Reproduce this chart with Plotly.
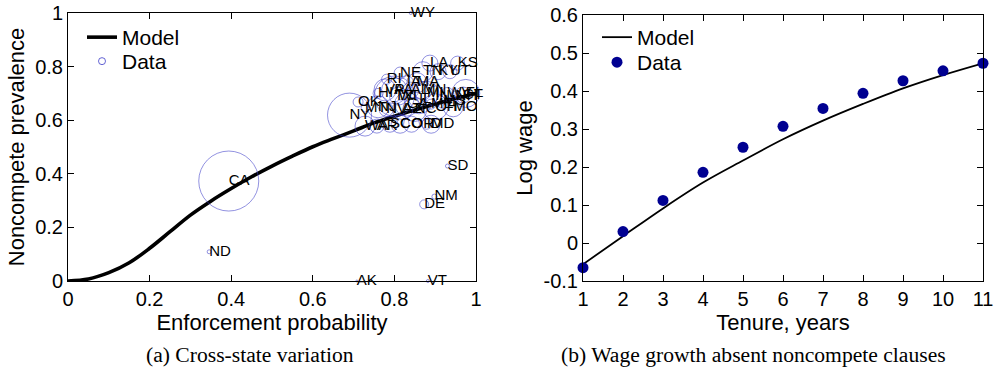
import plotly.graph_objects as go

# ---------------- data: panel (a) ----------------
enf_grid = [0.0, 0.05, 0.10, 0.15, 0.20, 0.25, 0.30, 0.35, 0.40, 0.45, 0.50,
            0.55, 0.60, 0.65, 0.70, 0.75, 0.80, 0.85, 0.90, 0.95, 1.00]
model_prev = [0.0, 0.0075, 0.031, 0.068, 0.122, 0.184, 0.246, 0.298, 0.345, 0.389, 0.429,
              0.466, 0.501, 0.531, 0.560, 0.590, 0.615, 0.638, 0.660, 0.681, 0.700]

states = ["CA", "NY", "TX", "FL", "IL", "PA", "OH", "MI", "GA", "NC",
          "NJ", "VA", "WA", "MA", "IN", "AZ", "TN", "MO", "MD", "WI",
          "MN", "CO", "AL", "SC", "LA", "KY", "OR", "OK", "CT", "IA",
          "MS", "AR", "KS", "UT", "NV", "NM", "WV", "NE", "ID", "HI",
          "ME", "NH", "RI", "MT", "DE", "SD", "AK", "ND", "VT", "WY"]
state_enf = [0.394, 0.690, 0.800, 0.975, 0.860, 0.800, 0.900, 0.880, 0.830, 0.850,
             0.760, 0.777, 0.728, 0.855, 0.900, 0.820, 0.870, 0.944, 0.890, 0.810,
             0.870, 0.814, 0.840, 0.789, 0.887, 0.907, 0.842, 0.711, 0.968, 0.830,
             0.920, 0.757, 0.955, 0.936, 0.780, 0.898, 0.930, 0.814, 0.879, 0.760,
             0.890, 0.950, 0.781, 0.728, 0.873, 0.930, 0.708, 0.346, 0.882, 0.840]
state_prev = [0.373, 0.619, 0.690, 0.700, 0.680, 0.710, 0.650, 0.700, 0.660, 0.640,
              0.650, 0.713, 0.578, 0.740, 0.690, 0.640, 0.781, 0.650, 0.585, 0.690,
              0.710, 0.585, 0.712, 0.585, 0.813, 0.781, 0.585, 0.668, 0.694, 0.740,
              0.670, 0.578, 0.813, 0.781, 0.640, 0.315, 0.700, 0.776, 0.585, 0.700,
              0.660, 0.690, 0.753, 0.645, 0.286, 0.429, 0.000, 0.109, 0.000, 1.000]
state_weight = [60, 44, 40, 28, 30, 26, 26, 24, 24, 24,
                22, 22, 20, 20, 20, 20, 20, 20, 18, 18,
                18, 18, 16, 16, 16, 16, 16, 10, 16, 14,
                14, 14, 14, 14, 14, 5, 12, 12, 10, 10,
                10, 10, 10, 8, 9, 4, 2, 4, 3, 3]

# ---------------- data: panel (b) ----------------
tenure = [1, 2, 3, 4, 5, 6, 7, 8, 9, 10, 11]
wage_data = [-0.065, 0.030, 0.112, 0.186, 0.252, 0.307, 0.354, 0.394, 0.427, 0.453, 0.473]
wage_model = [-0.056, 0.018, 0.091, 0.159, 0.217, 0.273, 0.322, 0.366, 0.407, 0.442, 0.473]

W, H = 996, 377
SANS = "Liberation Sans, Arial, Helvetica, sans-serif"
SERIF = "Liberation Serif, Times New Roman, serif"
CIRC = "rgb(60,60,200)"
NAVY = "rgb(0,0,145)"

def px(v):
    return v / W

def py(v):
    return 1 - v / H

fig = go.Figure()

# panel (a)
fig.add_trace(go.Scatter(x=enf_grid, y=model_prev, mode="lines", line=dict(color="black", width=3.6, shape="spline"),
                         xaxis="x", yaxis="y", showlegend=False, hoverinfo="skip"))
fig.add_trace(go.Scatter(x=state_enf, y=state_prev, mode="markers",
                         marker=dict(size=state_weight, sizemode="diameter", symbol="circle-open",
                                     color=CIRC, line=dict(width=0.8, color=CIRC)),
                         xaxis="x", yaxis="y", showlegend=False, cliponaxis=False))
fig.add_trace(go.Scatter(x=state_enf, y=state_prev, mode="text", text=states, textposition="middle right",
                         textfont=dict(family=SANS, size=15, color="black"),
                         xaxis="x", yaxis="y", showlegend=False, cliponaxis=False))
# legend entries (a)
fig.add_trace(go.Scatter(x=[None], y=[None], mode="lines", name="Model", line=dict(color="black", width=3.6),
                         xaxis="x", yaxis="y", legend="legend"))
fig.add_trace(go.Scatter(x=[None], y=[None], mode="markers", name="Data",
                         marker=dict(size=7, symbol="circle-open", color=CIRC, line=dict(width=0.8, color=CIRC)),
                         xaxis="x", yaxis="y", legend="legend2"))

# panel (b)
fig.add_trace(go.Scatter(x=tenure, y=wage_model, mode="lines", name="Model",
                         line=dict(color="black", width=1.8, shape="spline"),
                         xaxis="x2", yaxis="y2", legend="legend3"))
fig.add_trace(go.Scatter(x=tenure, y=wage_data, mode="markers", name="Data",
                         marker=dict(size=11, color=NAVY),
                         xaxis="x2", yaxis="y2", legend="legend4", cliponaxis=False))

axis_common = dict(showline=True, linecolor="black", linewidth=1, mirror="ticks", ticks="inside",
                   ticklen=6, tickcolor="black", showgrid=False, zeroline=False, automargin=False,
                   tickfont=dict(family=SANS, size=20, color="black"))
title_font = dict(family=SANS, size=22, color="black")
leg_font = dict(family=SANS, size=21, color="black")

fig.update_layout(
    template="none",
    width=W, height=H, margin=dict(l=0, r=0, t=0, b=0, autoexpand=False),
    paper_bgcolor="white", plot_bgcolor="white",
    xaxis=dict(domain=[px(68), px(476)], range=[0, 1], tickvals=[0, 0.2, 0.4, 0.6, 0.8, 1],
               ticktext=["0", "0.2", "0.4", "0.6", "0.8", "1"], anchor="y",
               title=dict(text="Enforcement probability", font=title_font, standoff=4),
               **axis_common),
    yaxis=dict(domain=[py(281), py(13)], range=[0, 1], tickvals=[0, 0.2, 0.4, 0.6, 0.8, 1],
               ticktext=["0", "0.2", "0.4", "0.6", "0.8", "1"], anchor="x",
               title=dict(text="Noncompete prevalence", font=title_font, standoff=4),
               **axis_common),
    xaxis2=dict(domain=[px(583), px(983)], range=[1, 11], tickvals=tenure, anchor="y2",
                title=dict(text="Tenure, years", font=title_font, standoff=4),
                **axis_common),
    yaxis2=dict(domain=[py(281), py(15)], range=[-0.1, 0.6],
                tickvals=[-0.1, 0, 0.1, 0.2, 0.3, 0.4, 0.5, 0.6],
                ticktext=["-0.1", "0", "0.1", "0.2", "0.3", "0.4", "0.5", "0.6"], anchor="x2",
                title=dict(text="Log wage", font=title_font, standoff=4),
                **axis_common),
    legend=dict(x=px(82), y=py(17), xanchor="left", yanchor="top", bgcolor="rgba(0,0,0,0)",
                font=leg_font, itemwidth=30),
    legend2=dict(x=px(82), y=py(41), xanchor="left", yanchor="top", bgcolor="rgba(0,0,0,0)",
                 font=leg_font, itemwidth=30),
    legend3=dict(x=px(597), y=py(17), xanchor="left", yanchor="top", bgcolor="rgba(0,0,0,0)",
                 font=leg_font, itemwidth=30),
    legend4=dict(x=px(597), y=py(42), xanchor="left", yanchor="top", bgcolor="rgba(0,0,0,0)",
                 font=leg_font, itemwidth=30),
    annotations=[
        dict(text="(a) Cross-state variation", x=px(250), y=py(355), xref="paper", yref="paper",
             showarrow=False, xanchor="center", yanchor="middle",
             font=dict(family=SERIF, size=21.6, color="black")),
        dict(text="(b) Wage growth absent noncompete clauses", x=px(753), y=py(355), xref="paper", yref="paper",
             showarrow=False, xanchor="center", yanchor="middle",
             font=dict(family=SERIF, size=21.6, color="black")),
    ],
)

fig.write_html("out.html")
